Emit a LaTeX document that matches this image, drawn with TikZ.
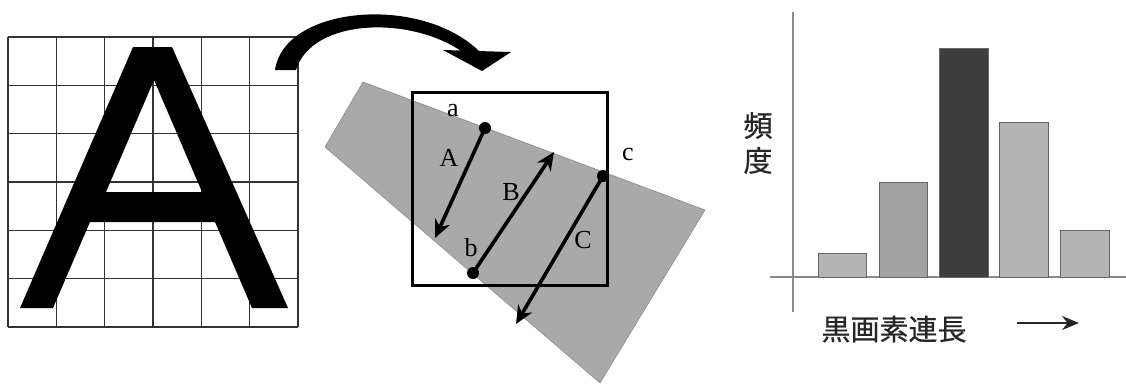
\documentclass[tikz,border=0pt]{standalone}
\usepackage{fontspec}
\setmainfont{Liberation Serif}
\newfontfamily\cjk[FakeBold=0.6]{Noto Sans CJK JP}
\usetikzlibrary{arrows.meta}
\definecolor{band}{HTML}{A9A9A9}
\definecolor{barlight}{HTML}{B4B4B4}
\definecolor{barmid}{HTML}{A2A2A2}
\definecolor{bardark}{HTML}{3E3E3E}
\definecolor{axis}{HTML}{8A8A8A}
\tikzset{
  gridline/.style = {draw=black!80, line width=1.6pt},
  glyph/.style    = {fill=black, even odd rule},
  bandfill/.style = {fill=band, draw=black!45, line width=0.6pt},
  window/.style   = {draw=black, line width=3pt},
  dotmark/.style  = {circle, fill=black, inner sep=0pt, minimum size=12pt},
  runarrow/.style = {-{Stealth[length=18pt,width=16pt]}, line width=3.6pt},
  lbl/.style      = {font=\fontsize{26}{26}\selectfont, inner sep=0pt},
  bar/.style      = {draw=black!60, line width=0.8pt},
  axisline/.style = {draw=axis, line width=1.4pt},
  jlbl/.style     = {font=\cjk\fontsize{29}{35}\selectfont, text=black!85, inner sep=0pt, align=center},
}
\begin{document}
\begin{tikzpicture}[x=1pt,y=-1pt]
  \useasboundingbox (0,0) rectangle (1126,389);

  % grid with the letter
  \foreach \k in {0,...,6} {
    \draw[gridline] (8+48.33*\k,37) -- (8+48.33*\k,327);
    \draw[gridline] (8,37+48.33*\k) -- (298,37+48.33*\k);
  }
  \path[glyph] (20,308) -- (133,47) -- (172,47) -- (288,308) -- (252,308)
    -- (215,222) -- (90,222) -- (53,308) -- cycle
    (106,192) -- (154,80) -- (202,192) -- cycle;

  % turn-over arrow
  \fill (275,70) .. controls (284,6) and (420,-6) .. (479,51) -- (461,51)
    .. controls (410,16) and (312,18) .. (296,70) -- cycle;
  \fill (443,50) -- (511,52) -- (482,71) -- cycle;

  % rotated stroke and scan window
  \path[bandfill] (363,82) -- (705,210) -- (600,383) -- (325,147) -- cycle;
  \draw[window] (412,92) rectangle (607,285);

  \node[dotmark] (pa) at (485,128) {};
  \node[dotmark] (pb) at (473,273) {};
  \node[dotmark] (pc) at (603,176) {};
  \coordinate (endA) at (435,238);
  \coordinate (endB) at (554,152);
  \coordinate (endC) at (516,324);
  \draw[runarrow] (pa.center) -- (endA);
  \draw[runarrow] (pb.center) -- (endB);
  \draw[runarrow] (pc.center) -- (endC);

  \node[lbl] (la) at (453,111) {a};
  \node[lbl] (lb) at (471,248) {b};
  \node[lbl] (lc) at (628,154) {c};
  \node[lbl] (lA) at (449,158) {A};
  \node[lbl] (lB) at (511,192) {B};
  \node[lbl] (lC) at (583,240) {C};

  % histogram
  \draw[axisline] (793,12) -- (793,312);
  \draw[axisline] (770,277) -- (1126,277);
  \path[bar, fill=barlight] (818,277) rectangle (866,253);
  \path[bar, fill=barmid]   (879,277) rectangle (927,182);
  \path[bar, fill=bardark]  (939,277) rectangle (988,48);
  \path[bar, fill=barlight] (999,277) rectangle (1048,122);
  \path[bar, fill=barlight] (1060,277) rectangle (1109,230);

  \node[jlbl] (freq) at (758,143) {頻\\度};
  \node[jlbl] (runlen) at (894,329) {黒画素連長};
  \coordinate (xa) at (1017,323);
  \coordinate (xb) at (1079,323);
  \draw[-{Stealth[length=17pt,width=14pt]}, line width=1.8pt, black!85] (xa) -- (xb);
\end{tikzpicture}
\end{document}
